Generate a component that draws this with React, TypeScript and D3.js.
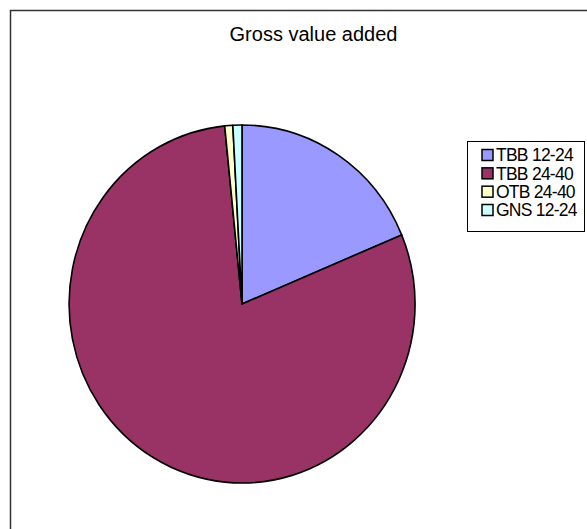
import React from "react";
import * as d3 from "d3";

const categories = ["TBB 12-24", "TBB 24-40", "OTB 24-40", "GNS 12-24"];
const values = [18.7, 79.7, 0.75, 0.85];
const colors = ["#9999FF", "#993366", "#FFFFCC", "#CCFFFF"];
const title = "Gross value added";

export default function App() {
  const W = 587, H = 529;
  const cx = 242, cy = 304, rx = 173, ry = 179;
  const pie = d3.pie<number>().sort(null).startAngle(0).endAngle(2 * Math.PI);
  const arcs = pie(values);
  const arc = d3.arc<d3.PieArcDatum<number>>().innerRadius(0).outerRadius(1);
  const legendX = 467, legendY = 141, legendW = 117, legendH = 90;
  const rowY = d3.scaleLinear().domain([0, 3]).range([155, 210]);
  return (
    <svg width={W} height={H} style={{ position: "absolute", left: 0, top: 0, background: "#fff" }}
      fontFamily="'Liberation Sans', Arial, sans-serif">
      <rect x={0} y={0} width={W} height={H} fill="#fff" />
      <rect x={10.5} y={10.5} width={700} height={700} fill="#fff" stroke="#333" strokeWidth={1.5} />
      <text x={313.5} y={41} textAnchor="middle" fontSize={20} fill="#000">{title}</text>
      <g transform={`translate(${cx},${cy}) scale(${rx},${ry})`}>
        {arcs.map((a, i) => (
          <path key={i} d={arc(a) || ""} fill={colors[i]} stroke="#000" strokeWidth={1.6}
            vectorEffect="non-scaling-stroke" strokeLinejoin="round" />
        ))}
      </g>
      <rect x={legendX + 0.5} y={legendY + 0.5} width={legendW} height={legendH} fill="#fff" stroke="#000" strokeWidth={1} />
      {categories.map((c, i) => (
        <g key={c}>
          <rect x={482} y={rowY(i) - 5.5} width={11} height={11} fill={colors[i]} stroke="#000" strokeWidth={1.5} />
          <text x={496} y={rowY(i) + 6.3} fontSize={17.5} letterSpacing={-0.75} fill="#000">{c}</text>
        </g>
      ))}
    </svg>
  );
}
